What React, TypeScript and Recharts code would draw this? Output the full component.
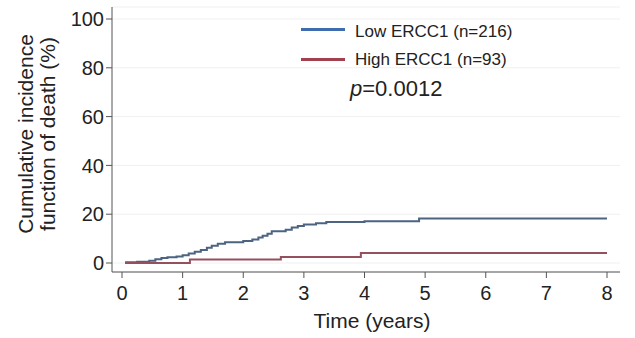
import { LineChart, Line, XAxis, YAxis, CartesianGrid } from 'recharts';

const lowTimes = [0.05, 0.25, 0.45, 0.55, 0.65, 0.75, 0.9, 1.0, 1.1, 1.2, 1.3, 1.4, 1.48, 1.58, 1.7, 2.0, 2.15, 2.25, 2.32, 2.4, 2.47, 2.7, 2.8, 2.9, 3.0, 3.2, 3.37, 4.0, 4.9, 8.0];
const lowValues = [0.3, 0.5, 0.9, 1.5, 2.0, 2.4, 2.7, 3.2, 3.9, 4.6, 5.3, 6.2, 7.1, 7.9, 8.5, 9.0, 9.6, 10.4, 11.2, 12.0, 13.0, 13.6, 14.6, 15.2, 15.8, 16.3, 16.8, 17.1, 18.2, 18.2];
const highTimes = [0.05, 1.12, 2.62, 3.94, 8.0];
const highValues = [0, 1.4, 2.5, 4.1, 4.1];
const xTicks = [0, 1, 2, 3, 4, 5, 6, 7, 8];
const yTicks = [0, 20, 40, 60, 80, 100];

const lowData = lowTimes.map((t, i) => ({ t, v: lowValues[i] }));
const highData = highTimes.map((t, i) => ({ t, v: highValues[i] }));

const font = '"Liberation Sans", Arial, sans-serif';
const blueCurve = '#4c6482';
const redCurve = '#95505e';
const blueKey = '#3e6cae';
const redKey = '#a3404f';

const YTitle = () => (
  <text transform="rotate(-90)" textAnchor="middle" fontFamily={font} fontSize={21} fill="#222">
    <tspan x={-134} y={33}>Cumulative incidence</tspan>
    <tspan x={-134} y={55}>function of death (%)</tspan>
  </text>
);

const XTitle = () => (
  <text x={372} y={328} textAnchor="middle" fontFamily={font} fontSize={21} fill="#222">
    Time (years)
  </text>
);

export default function App() {
  return (
    <div style={{ position: 'absolute', left: 0, top: 0, background: '#fff' }}>
      <LineChart width={635} height={338} margin={{ top: 7, right: 15, bottom: 36, left: 52 }}>
        <CartesianGrid vertical={false} stroke="#f0f0f0" />
        <XAxis
          type="number"
          dataKey="t"
          domain={[0, 8]}
          ticks={xTicks}
          padding={{ left: 10, right: 13 }}
          height={30}
          stroke="#555"
          tickSize={6}
          tickMargin={8}
          tick={{ fontSize: 20, fill: '#222', fontFamily: font }}
          label={{ content: () => <XTitle /> }}
        />
        <YAxis
          type="number"
          domain={[0, 100]}
          ticks={yTicks}
          padding={{ top: 12, bottom: 9 }}
          width={60}
          stroke="#555"
          tickSize={6}
          tick={{ fontSize: 20, fill: '#222', fontFamily: font }}
          label={{ content: () => <YTitle /> }}
        />
        <Line data={lowData} dataKey="v" type="stepAfter" stroke={blueCurve} strokeWidth={2} dot={false} isAnimationActive={false} />
        <Line data={highData} dataKey="v" type="stepAfter" stroke={redCurve} strokeWidth={2} dot={false} isAnimationActive={false} />
      </LineChart>
      <div style={{ position: 'absolute', left: 0, top: 0, width: 635, height: 338, pointerEvents: 'none', fontFamily: font, color: '#222', whiteSpace: 'nowrap' }}>
        <div style={{ position: 'absolute', left: 301, top: 28, width: 44, height: 3, background: blueKey }} />
        <div style={{ position: 'absolute', left: 355, top: 22, fontSize: 17 }}>Low ERCC1 (n=216)</div>
        <div style={{ position: 'absolute', left: 301, top: 58, width: 44, height: 3, background: redKey }} />
        <div style={{ position: 'absolute', left: 355, top: 50, fontSize: 17 }}>High ERCC1 (n=93)</div>
        <div style={{ position: 'absolute', left: 350, top: 76, fontSize: 22 }}>
          <i>p</i>=0.0012
        </div>
      </div>
    </div>
  );
}
